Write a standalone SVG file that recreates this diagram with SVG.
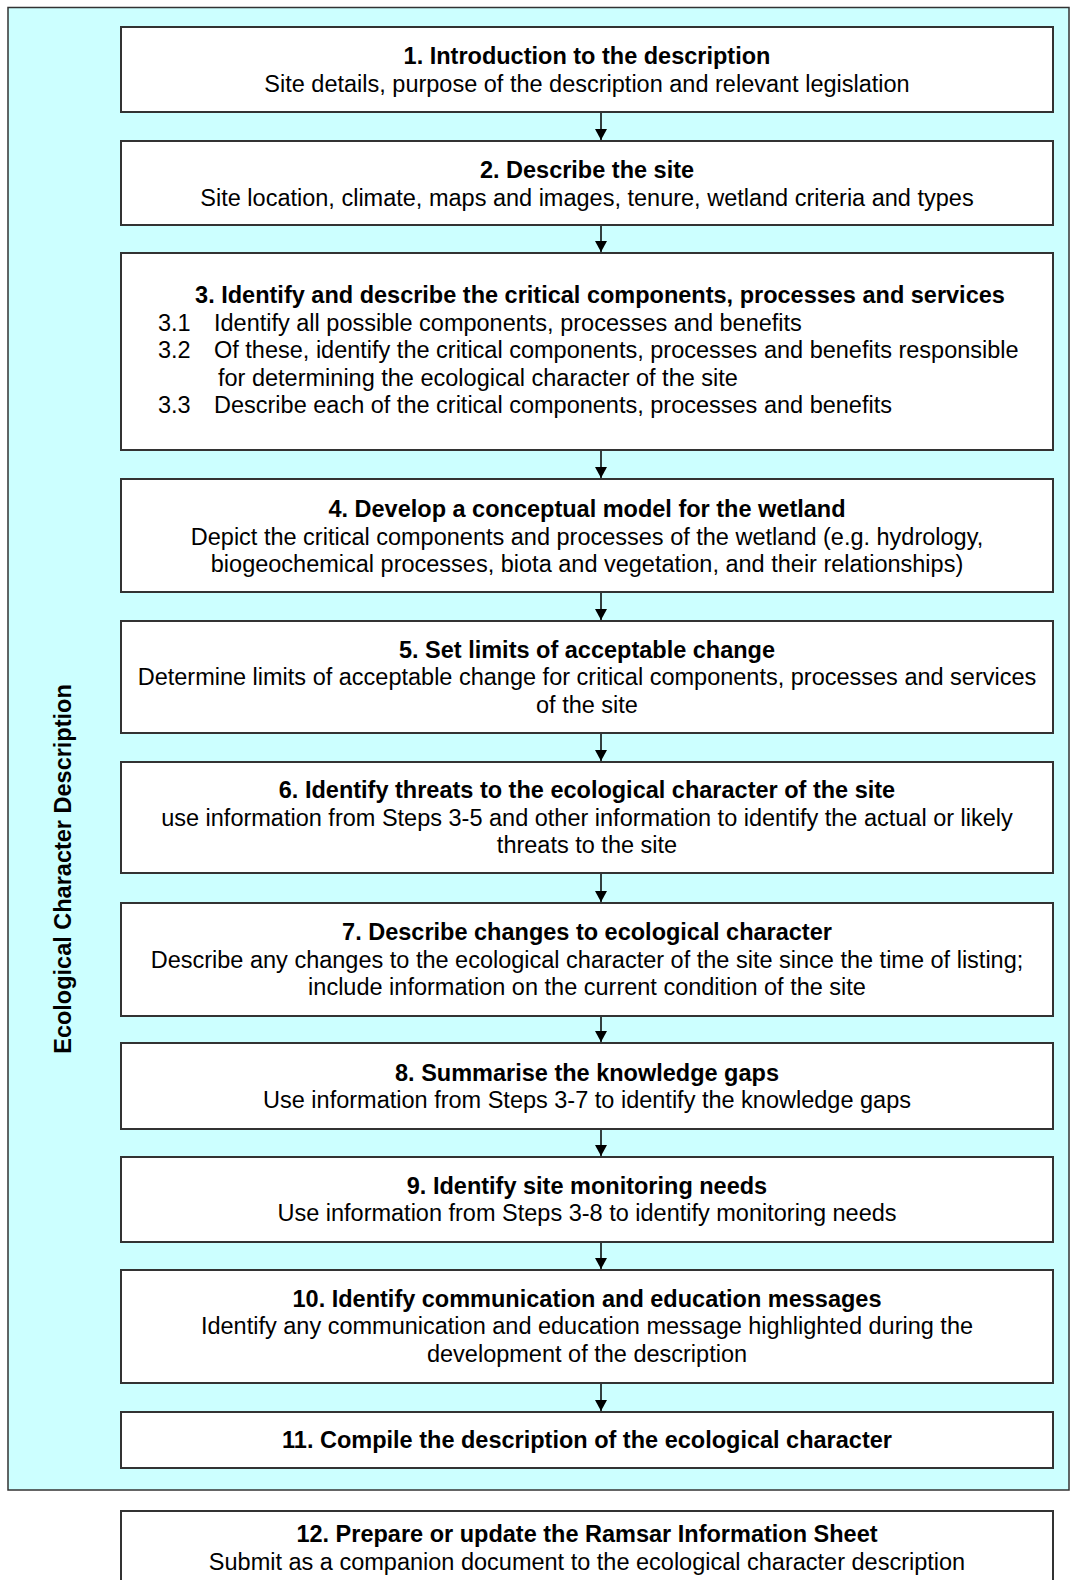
<svg xmlns="http://www.w3.org/2000/svg" width="1071" height="1580" viewBox="0 0 1071 1580">
<style>
.box{fill:#ffffff;stroke:#333333;stroke-width:2}
.t{font-family:"Liberation Sans",Arial,sans-serif;font-size:23.5px;fill:#000000;text-anchor:middle}
.b{font-weight:bold}
.l{text-anchor:start}
.conn{stroke:#000000;stroke-width:1.5;fill:none;marker-end:url(#ah)}
</style>
<defs>
<marker id="ah" markerUnits="userSpaceOnUse" markerWidth="12" markerHeight="12" refX="11" refY="6" orient="auto" viewBox="0 0 11 12">
<path d="M0,0 L11,6 L0,12 z" fill="#000000"/>
</marker>
</defs>
<rect id="frame" x="8" y="7.5" width="1061" height="1482.5" fill="#ccffff" stroke="#333333" stroke-width="1.5"/>
<text class="t b" transform="translate(71,869) rotate(-90)">Ecological Character Description</text>
<g id="connectors">
<line class="conn" x1="601" y1="113" x2="601" y2="140"/>
<line class="conn" x1="601" y1="226" x2="601" y2="252"/>
<line class="conn" x1="601" y1="451" x2="601" y2="478"/>
<line class="conn" x1="601" y1="593" x2="601" y2="620"/>
<line class="conn" x1="601" y1="734" x2="601" y2="761"/>
<line class="conn" x1="601" y1="874" x2="601" y2="902"/>
<line class="conn" x1="601" y1="1017" x2="601" y2="1042"/>
<line class="conn" x1="601" y1="1130" x2="601" y2="1156"/>
<line class="conn" x1="601" y1="1243" x2="601" y2="1269"/>
<line class="conn" x1="601" y1="1384" x2="601" y2="1411"/>
</g>
<g id="n1">
<rect class="box" x="121" y="27" width="932" height="85"/>
<text class="t b" x="587" y="64">1. Introduction to the description</text>
<text class="t" x="587" y="91.5">Site details, purpose of the description and relevant legislation</text>
</g>
<g id="n2">
<rect class="box" x="121" y="141" width="932" height="84"/>
<text class="t b" x="587" y="178">2. Describe the site</text>
<text class="t" x="587" y="205.5">Site location, climate, maps and images, tenure, wetland criteria and types</text>
</g>
<g id="n3">
<rect class="box" x="121" y="253" width="932" height="197"/>
<text class="t b" x="600" y="303">3. Identify and describe the critical components, processes and services</text>
<text class="t l" x="158" y="330.5">3.1</text>
<text class="t l" x="214" y="330.5">Identify all possible components, processes and benefits</text>
<text class="t l" x="158" y="358">3.2</text>
<text class="t l" x="214" y="358">Of these, identify the critical components, processes and benefits responsible</text>
<text class="t l" x="218" y="385.5">for determining the ecological character of the site</text>
<text class="t l" x="158" y="413">3.3</text>
<text class="t l" x="214" y="413">Describe each of the critical components, processes and benefits</text>
</g>
<g id="n4">
<rect class="box" x="121" y="479" width="932" height="113"/>
<text class="t b" x="587" y="517">4. Develop a conceptual model for the wetland</text>
<text class="t" x="587" y="544.5">Depict the critical components and processes of the wetland (e.g. hydrology,</text>
<text class="t" x="587" y="572">biogeochemical processes, biota and vegetation, and their relationships)</text>
</g>
<g id="n5">
<rect class="box" x="121" y="621" width="932" height="112"/>
<text class="t b" x="587" y="657.5">5. Set limits of acceptable change</text>
<text class="t" x="587" y="685">Determine limits of acceptable change for critical components, processes and services</text>
<text class="t" x="587" y="712.5">of the site</text>
</g>
<g id="n6">
<rect class="box" x="121" y="762" width="932" height="111"/>
<text class="t b" x="587" y="798">6. Identify threats to the ecological character of the site</text>
<text class="t" x="587" y="825.5">use information from Steps 3-5 and other information to identify the actual or likely</text>
<text class="t" x="587" y="853">threats to the site</text>
</g>
<g id="n7">
<rect class="box" x="121" y="903" width="932" height="113"/>
<text class="t b" x="587" y="940">7. Describe changes to ecological character</text>
<text class="t" x="587" y="967.5">Describe any changes to the ecological character of the site since the time of listing;</text>
<text class="t" x="587" y="995">include information on the current condition of the site</text>
</g>
<g id="n8">
<rect class="box" x="121" y="1043" width="932" height="86"/>
<text class="t b" x="587" y="1080.5">8. Summarise the knowledge gaps</text>
<text class="t" x="587" y="1108">Use information from Steps 3-7 to identify the knowledge gaps</text>
</g>
<g id="n9">
<rect class="box" x="121" y="1157" width="932" height="85"/>
<text class="t b" x="587" y="1193.5">9. Identify site monitoring needs</text>
<text class="t" x="587" y="1221">Use information from Steps 3-8 to identify monitoring needs</text>
</g>
<g id="n10">
<rect class="box" x="121" y="1270" width="932" height="113"/>
<text class="t b" x="587" y="1306.5">10. Identify communication and education messages</text>
<text class="t" x="587" y="1334">Identify any communication and education message highlighted during the</text>
<text class="t" x="587" y="1361.5">development of the description</text>
</g>
<g id="n11">
<rect class="box" x="121" y="1412" width="932" height="56"/>
<text class="t b" x="587" y="1448">11. Compile the description of the ecological character</text>
</g>
<g id="n12">
<rect class="box" x="121" y="1511" width="932" height="80"/>
<text class="t b" x="587" y="1542">12. Prepare or update the Ramsar Information Sheet</text>
<text class="t" x="587" y="1569.5">Submit as a companion document to the ecological character description</text>
</g>
</svg>
